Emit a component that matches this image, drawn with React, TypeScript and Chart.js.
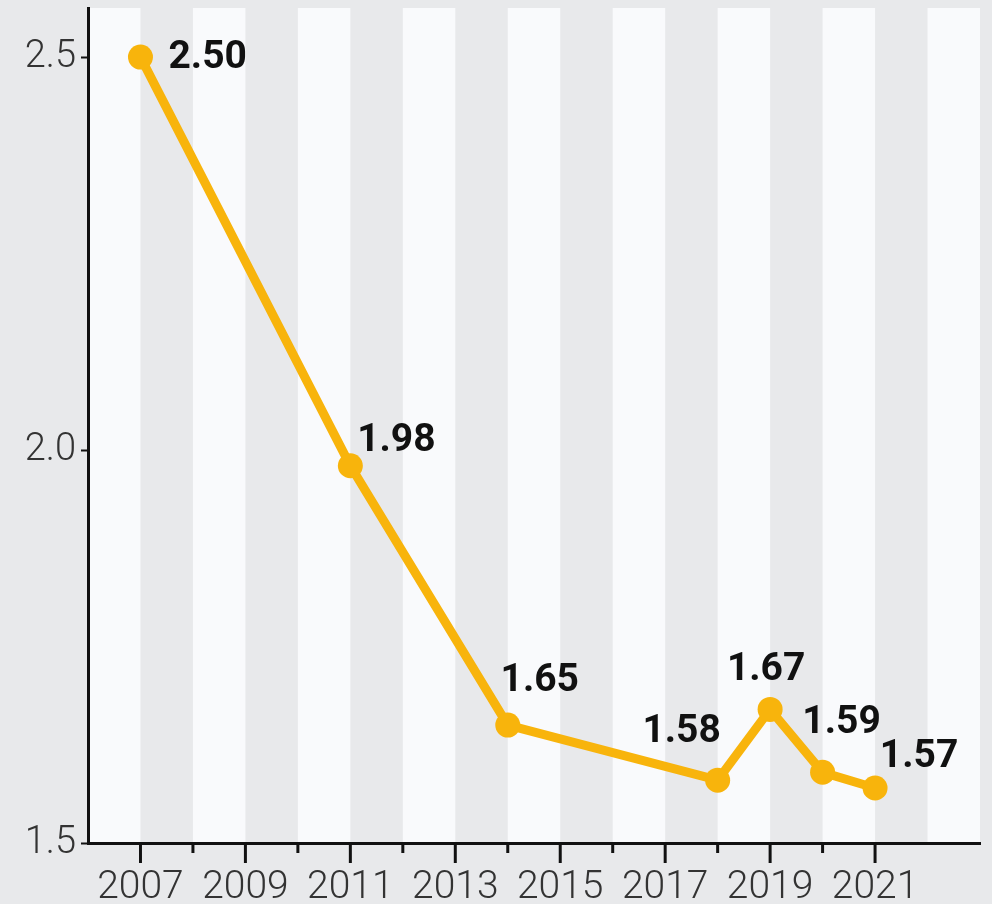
import React, { useEffect, useRef } from "react";
import { Chart, registerables } from "chart.js";

Chart.register(...registerables);

const years = [2007, 2011, 2014, 2018, 2019, 2020, 2021];
const values = [2.5, 1.98, 1.65, 1.58, 1.67, 1.59, 1.57];
const valueLabels = ["2.50", "1.98", "1.65", "1.58", "1.67", "1.59", "1.57"];
const yTickValues = [1.5, 2.0, 2.5];
const yTickLabels = ["1.5", "2.0", "2.5"];
// label placement relative to the point (dx, dy), styling only
const labelOffsets: [number, number][] = [
  [69, 0],
  [46, -26],
  [32, -45],
  [-36, -49],
  [-4, -40],
  [19, -50],
  [44, -32],
];

const BG = "#e8e9eb";
const STRIPE = "#f9fafc";
const LINE = "#f8b40c";

const stripesPlugin = {
  id: "stripes",
  beforeDraw(chart: any) {
    const { ctx, chartArea, scales } = chart;
    ctx.save();
    ctx.fillStyle = BG;
    ctx.fillRect(0, 0, chart.width, chart.height);
    const xs = scales.x;
    ctx.fillStyle = STRIPE;
    for (let y = Math.ceil(xs.min); y < xs.max; y++) {
      if (y % 2 === 0) {
        const a = xs.getPixelForValue(y);
        const b = xs.getPixelForValue(Math.min(y + 1, xs.max));
        ctx.fillRect(a, chartArea.top, b - a, chartArea.bottom - chartArea.top);
      }
    }
    ctx.restore();
  },
  afterDraw(chart: any) {
    const { ctx, chartArea, scales } = chart;
    const xs = scales.x;
    ctx.save();
    ctx.strokeStyle = "#111";
    ctx.lineWidth = 3;
    for (let y = 2007; y <= 2021; y++) {
      const px = xs.getPixelForValue(y);
      const len = y % 2 === 1 ? 20 : 10;
      ctx.beginPath();
      ctx.moveTo(px, chartArea.bottom);
      ctx.lineTo(px, chartArea.bottom + len);
      ctx.stroke();
    }
    // value labels
    const meta = chart.getDatasetMeta(0);
    ctx.fillStyle = "#111";
    ctx.font = "bold 39px Roboto";
    ctx.textBaseline = "middle";
    meta.data.forEach((pt: any, i: number) => {
      const [dx, dy] = labelOffsets[i];
      if (i === 0) {
        ctx.textAlign = "left";
        ctx.fillText(valueLabels[i], pt.x + 28, pt.y + dy + 1);
      } else {
        ctx.textAlign = "center";
        ctx.fillText(valueLabels[i], pt.x + dx, pt.y + dy + 1);
      }
    });
    ctx.restore();
  },
};

export default function App() {
  const ref = useRef<HTMLCanvasElement | null>(null);
  useEffect(() => {
    if (!ref.current) return;
    const chart = new Chart(ref.current, {
      type: "line",
      data: {
        datasets: [
          {
            data: years.map((x, i) => ({ x, y: values[i] })),
            borderColor: LINE,
            backgroundColor: LINE,
            borderWidth: 9,
            pointRadius: 12.5,
            pointBackgroundColor: LINE,
            pointBorderWidth: 0,
            tension: 0,
          },
        ],
      },
      options: {
        animation: false,
        responsive: false,
        devicePixelRatio: 1,
        layout: { autoPadding: false, padding: { top: 8, right: 12, left: 0, bottom: 0 } },
        plugins: { legend: { display: false }, tooltip: { enabled: false } },
        scales: {
          x: {
            type: "linear",
            min: 2006,
            max: 2023,
            afterBuildTicks: (s: any) => {
              const t = [];
              for (let y = 2007; y <= 2021; y += 2) t.push({ value: y });
              s.ticks = t;
            },
            afterFit: (s: any) => {
              s.height = 61;
              s.paddingLeft = 0;
              s.paddingRight = 0;
            },
            grid: { display: false, drawTicks: false },
            border: { display: true, color: "#111", width: 3 },
            ticks: {
              padding: 22,
              color: "#333",
              font: { family: "Roboto", size: 39, weight: "300" },
              maxRotation: 0,
              autoSkip: false,
              callback: (v: any) => String(v),
            },
          },
          y: {
            min: 1.5,
            max: 2.5625,
            afterBuildTicks: (s: any) => {
              s.ticks = yTickValues.map((v) => ({ value: v }));
            },
            afterFit: (s: any) => {
              s.width = 88;
              s.paddingTop = 0;
              s.paddingBottom = 0;
            },
            grid: {
              display: true,
              drawOnChartArea: false,
              drawTicks: true,
              tickLength: 7,
              tickColor: "#111",
              tickWidth: 2,
            },
            border: { display: true, color: "#111", width: 3 },
            ticks: {
              padding: 5,
              color: "#333",
              font: { family: "Roboto", size: 38, weight: "300" },
              callback: (v: any) => yTickLabels[yTickValues.indexOf(Number(v))] ?? "",
            },
          },
        },
      },
      plugins: [stripesPlugin],
    } as any);
    return () => chart.destroy();
  }, []);
  return (
    <div style={{ position: "fixed", left: 0, top: 0, width: 992, height: 904, background: BG }}>
      <canvas ref={ref} width={992} height={904} style={{ display: "block", width: 992, height: 904 }} />
    </div>
  );
}
